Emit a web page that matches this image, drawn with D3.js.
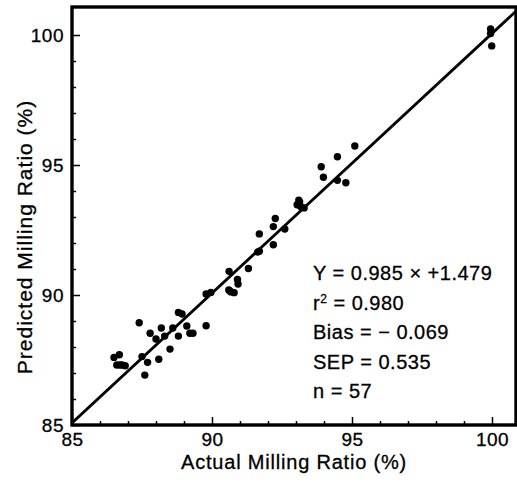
<!DOCTYPE html>
<html>
<head>
<meta charset="utf-8">
<script src="https://cdn.jsdelivr.net/npm/d3@7"></script>
<style>
  body { margin: 0; background: #fff; }
  svg text { font-family: "Liberation Sans", Arial, sans-serif; fill: #000; stroke: #000; stroke-width: 0.3px; }
</style>
</head>
<body>
<div id="chart"></div>
<script>
// actual vs predicted milling ratio (%)
const actual = [86.50, 86.69, 86.60, 86.79, 86.90, 87.40, 87.50, 87.70, 87.60, 88.10,
                87.79, 88.00, 88.19, 88.31, 88.50, 88.60, 88.80, 89.10, 89.21, 89.32,
                89.79, 88.80, 88.93, 89.79, 89.96, 90.61, 90.60, 90.68, 90.79, 90.91,
                90.93, 91.30, 91.63, 91.69, 91.69, 92.19, 92.19, 92.26, 92.60, 93.10,
                93.10, 93.17, 93.29, 93.04, 93.90, 93.98, 94.48, 94.48, 94.78, 95.10,
                99.95, 99.95, 99.99, 93.13, 93.21, 86.71, 90.64];
const predicted = [87.60, 87.70, 87.31, 87.31, 87.28, 88.93, 87.63, 87.41, 86.92, 87.53,
                   88.53, 88.31, 88.73, 88.42, 87.92, 88.73, 88.42, 88.81, 88.53, 88.53,
                   88.82, 89.33, 89.27, 90.04, 90.10, 90.91, 90.19, 90.12, 90.09, 90.60,
                   90.42, 91.02, 91.65, 91.68, 92.35, 91.93, 92.63, 92.94, 92.54, 93.65,
                   93.50, 93.40, 93.35, 93.47, 94.93, 94.53, 95.32, 94.41, 94.32, 95.73,
                   100.23, 100.06, 99.58, 93.58, 93.37, 87.31, 90.15];

// fitted line end points
const fitX = [85, 100.9];
const fitY = [85.08, 100.96];

const majorTicks = [85, 90, 95, 100];
const minorTicks = d3.range(86, 101).filter(v => v % 5 !== 0);

const statLines = [
  { text: "Y = 0.985  \u00D7 +1.479" },
  { text: "r", sup: "2", rest: " = 0.980" },
  { text: "Bias =  \u2212 0.069" },
  { text: "SEP = 0.535" },
  { text: "n = 57" }
];

const xTitle = "Actual Milling Ratio (%)";
const yTitle = "Predicted Milling Ratio (%)";

const width = 517, height = 493;
const mLeft = 72, mRight = 516, mTop = 7, mBottom = 425;

const svg = d3.select("#chart").append("svg")
    .attr("width", width)
    .attr("height", height);

const x = d3.scaleLinear().domain([85, 85 + (mRight - mLeft) / 28]).range([mLeft, mRight]);
const y = d3.scaleLinear().domain([85, 85 + (mBottom - mTop) / 26]).range([mBottom, mTop]);

// minor ticks first (no labels)
svg.append("g")
    .attr("transform", `translate(0,${mBottom})`)
    .call(d3.axisBottom(x).tickValues(minorTicks).tickSize(-4).tickFormat(""))
    .call(g => g.select(".domain").remove());
svg.append("g")
    .attr("transform", `translate(${mLeft},0)`)
    .call(d3.axisLeft(y).tickValues(minorTicks).tickSize(-4).tickFormat(""))
    .call(g => g.select(".domain").remove());

// major ticks and labels
svg.append("g")
    .attr("transform", `translate(0,${mBottom})`)
    .call(d3.axisBottom(x).tickValues(majorTicks).tickSize(-8).tickPadding(8).tickFormat(d3.format("d")))
    .call(g => g.select(".domain").remove())
    .call(g => g.selectAll("text").attr("font-size", 19).attr("letter-spacing", 0.5));
svg.append("g")
    .attr("transform", `translate(${mLeft},0)`)
    .call(d3.axisLeft(y).tickValues(majorTicks).tickSize(-8).tickPadding(8).tickFormat(d3.format("d")))
    .call(g => g.select(".domain").remove())
    .call(g => g.selectAll("text").attr("font-size", 19).attr("letter-spacing", 0.5));

svg.selectAll(".tick line").attr("stroke", "#000").attr("stroke-width", 1.5);

// clip for the fit line
svg.append("clipPath").attr("id", "plot-clip")
  .append("rect")
    .attr("x", mLeft).attr("y", mTop)
    .attr("width", mRight - mLeft).attr("height", mBottom - mTop);

const fitLine = d3.line()
    .x(d => x(d[0]))
    .y(d => y(d[1]));

svg.append("path")
    .datum(d3.zip(fitX, fitY))
    .attr("clip-path", "url(#plot-clip)")
    .attr("fill", "none")
    .attr("stroke", "#000")
    .attr("stroke-width", 2.8)
    .attr("d", fitLine);

svg.append("g")
  .selectAll("circle")
  .data(d3.zip(actual, predicted))
  .join("circle")
    .attr("cx", d => x(d[0]))
    .attr("cy", d => y(d[1]))
    .attr("r", 3.7)
    .attr("fill", "#000");

// frame
svg.append("rect")
    .attr("x", mLeft).attr("y", mTop)
    .attr("width", mRight - mLeft).attr("height", mBottom - mTop)
    .attr("fill", "none")
    .attr("stroke", "#000")
    .attr("stroke-width", 3.4);

// stats block
const stats = svg.append("g").attr("font-size", 20).attr("letter-spacing", 0.5);
statLines.forEach((s, i) => {
  const t = stats.append("text")
      .attr("x", 313)
      .attr("y", 280 + i * 29.5);
  t.append("tspan").text(s.text);
  if (s.sup) {
    t.append("tspan").attr("font-size", 12).attr("dy", -7).text(s.sup);
    t.append("tspan").attr("dy", 7).text(s.rest);
  }
});

// axis titles
svg.append("text")
    .attr("x", (mLeft + mRight) / 2)
    .attr("y", 469)
    .attr("text-anchor", "middle")
    .attr("font-size", 20)
    .attr("letter-spacing", 0.8)
    .text(xTitle);

svg.append("text")
    .attr("transform", `translate(32,${(mTop + mBottom) / 2 + 21}) rotate(-90)`)
    .attr("text-anchor", "middle")
    .attr("font-size", 21)
    .attr("letter-spacing", 1)
    .text(yTitle);
</script>
</body>
</html>
